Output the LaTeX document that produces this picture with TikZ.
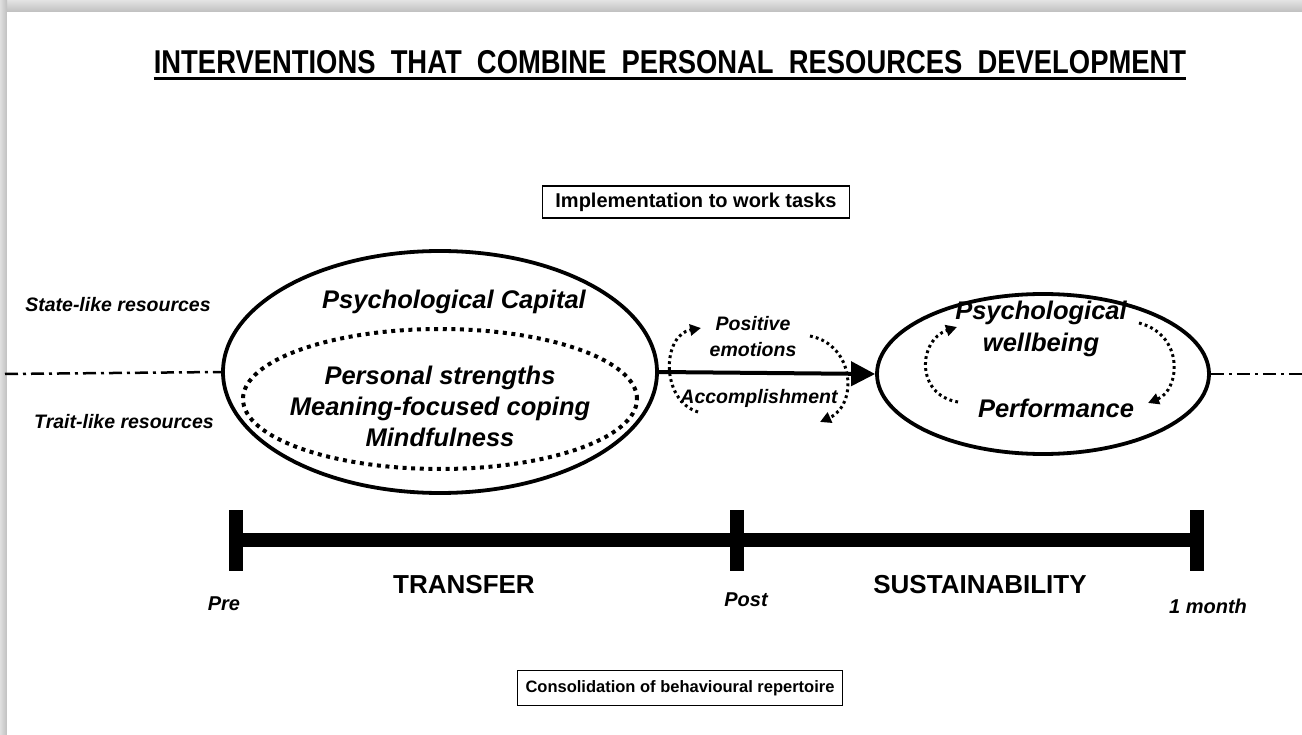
\documentclass[tikz,border=0pt]{standalone}
\usepackage{fontspec}
\setmainfont{Liberation Sans}
\usetikzlibrary{shapes.geometric,arrows.meta}
\begin{document}
\begin{tikzpicture}[x=1pt,y=-1pt,
  lbl/.style={font=\fontsize{19.5}{22}\selectfont\bfseries\itshape, inner sep=0},
  tlbl/.style={font=\fontsize{20}{22}\selectfont\bfseries\itshape, inner sep=0},
  big/.style={font=\fontsize{25.5}{31}\selectfont\bfseries\itshape, inner sep=0, align=center},
  phase/.style={font=\fontsize{26}{28}\selectfont\bfseries, inner sep=0},
  boxed/.style={draw, line width=1.3pt, inner sep=0},
  oval/.style={draw, ellipse, line width=3.8pt, inner sep=0},
  dotoval/.style={draw, ellipse, line width=4pt, dash pattern=on 4pt off 4.6pt, inner sep=0},
  cyc/.style={line width=3pt, dash pattern=on 2.8pt off 3.2pt, -{Triangle[length=11pt,width=11pt]}},
  splitline/.style={line width=2.5pt, dash pattern=on 13pt off 5pt on 3pt off 5pt},
  tick/.style={line width=14pt},
  bar/.style={line width=14pt}]
\useasboundingbox (0,0) rectangle (1302,735);
% card with its shadow on the top and left edges
\fill[white] (0,0) rectangle (1302,735);
\fill[top color=gray!22, bottom color=gray!50] (0,0) rectangle (1302,12);
\fill[left color=gray!25, right color=gray!50] (0,0) rectangle (7,735);
\fill[white] (7,12) rectangle (1302,735);

% title
\node[inner sep=0, anchor=base, font=\fontsize{33}{36}\selectfont\bfseries] (title) at (670,74)
  {\scalebox{0.83}[1]{INTERVENTIONS\ \ THAT\ \ COMBINE\ \ PERSONAL\ \ RESOURCES\ \ DEVELOPMENT}};
\draw[line width=3pt] ([yshift=-4.5pt]title.base west) -- ([yshift=-4.5pt]title.base east);

\node[boxed, minimum width=307, minimum height=32, font=\fontsize{20}{22}\selectfont\bfseries] (impl) at (696,202) {Implementation to work tasks};

% levels of resources
\node[lbl] (state) at (118,305) {State-like resources};
\node[lbl] (trait) at (124,422) {Trait-like resources};

% personal resources
\node[oval, minimum width=434, minimum height=242] (capital) at (440,372) {};
\node[dotoval, minimum width=394, minimum height=140] (trait oval) at (440,399) {};
\node[big] (pcap) at (454,302) {Psychological Capital};
\node[big] (strengths) at (440,406) {Personal strengths\\Meaning-focused coping\\Mindfulness};

% outcomes
\node[oval, minimum width=332, minimum height=160] (outcome) at (1043,374) {};
\node[big, font=\fontsize{25.5}{32}\selectfont\bfseries\itshape] (wellbeing) at (1041,329) {Psychological\\wellbeing};
\node[big] (perf) at (1056,408) {Performance};

% boundary between state-like and trait-like
\coordinate (lend) at (5,374);
\coordinate (rend) at (1302,374);
\draw[splitline] (lend) -- (capital.west);
\draw[splitline] (outcome.east) -- (rend);

% main effect
\draw[line width=4pt, -{Triangle[length=24pt,width=24pt]}] (capital.east) -- (outcome.west);

% mechanisms
\node[lbl, align=center, font=\fontsize{19.5}{26}\selectfont\bfseries\itshape] (posemo) at (753,337) {Positive\\emotions};
\node[lbl] (accomp) at (759,398) {Accomplishment};
\coordinate (m1) at (698,412);
\coordinate (m2) at (701,328);
\coordinate (m3) at (810,336);
\coordinate (m4) at (820,422);
\draw[cyc] (m1) .. controls (660,400) and (662,335) .. (m2);
\draw[cyc] (m3) .. controls (855,345) and (858,405) .. (m4);

% cycle between wellbeing and performance
\coordinate (o1) at (958,402);
\coordinate (o2) at (957,327);
\coordinate (o3) at (1139,323);
\coordinate (o4) at (1148,403);
\draw[cyc] (o1) .. controls (915,395) and (918,340) .. (o2);
\draw[cyc] (o3) .. controls (1185,335) and (1180,390) .. (o4);

% time line
\coordinate (pre) at (236,540);
\coordinate (post) at (737,540);
\coordinate (month) at (1197,540);
\draw[bar] (pre) -- (month);
\draw[tick] (pre) ++(0,-30) -- ++(0,61);
\draw[tick] (post) ++(0,-30) -- ++(0,61);
\draw[tick] (month) ++(0,-30) -- ++(0,61);

\node[phase] (transfer) at (464,585) {TRANSFER};
\node[phase] (sustain) at (980,585) {SUSTAINABILITY};
\node[tlbl] (pre label) at (224,604) {Pre};
\node[tlbl] (post label) at (746,600) {Post};
\node[tlbl] (month label) at (1208,606) {1 month};

\node[boxed, minimum width=325, minimum height=35, font=\fontsize{16.5}{20}\selectfont\bfseries] (consol) at (680,688) {Consolidation of behavioural repertoire};
\end{tikzpicture}
\end{document}
